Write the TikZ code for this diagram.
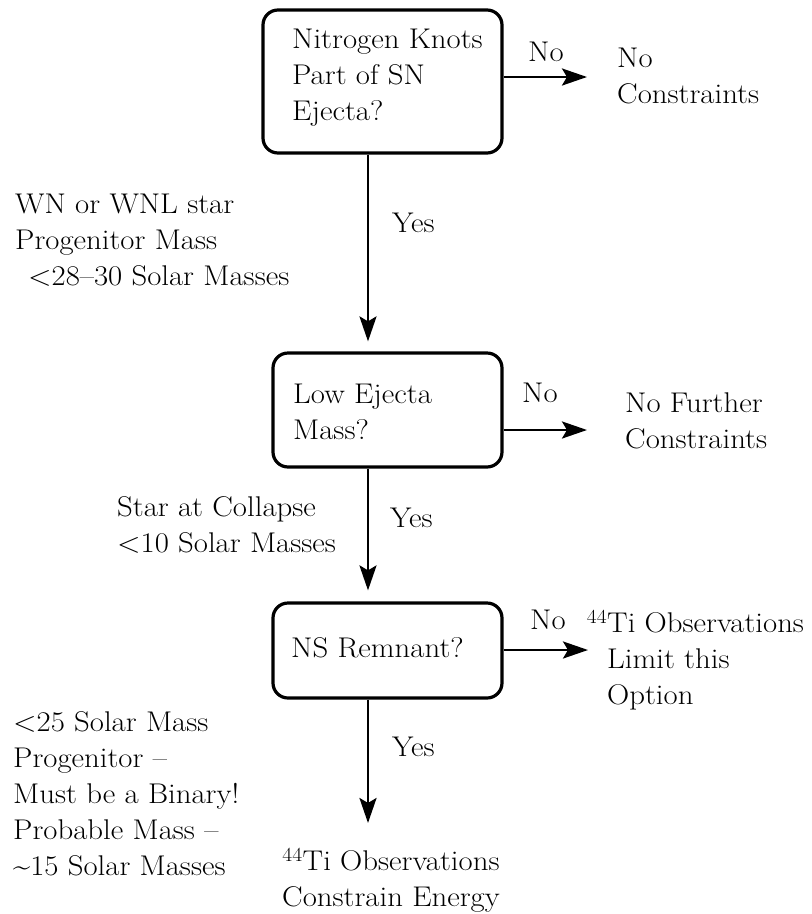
\documentclass[tikz,border=0pt]{standalone}
\usepackage{fontspec}
\setmainfont{Latin Modern Roman}[FakeStretch=1.08]
\usetikzlibrary{arrows.meta}
\begin{document}
\begin{tikzpicture}[x=1pt,y=-1pt,
  every node/.style={font=\fontsize{28.5}{36}\selectfont, inner sep=0pt},
  box/.style={draw, line width=3.2pt, rounded corners=15pt},
  txt/.style={align=left, anchor=west},
  arr/.style={line width=2.8pt, -{Stealth[length=25pt,width=17pt,inset=5pt]}}]
\useasboundingbox (0,0) rectangle (812,914);
% boxes
\node[box, minimum width=239pt, minimum height=143pt] (b1) at (382.5,81.5) {};
\node[box, minimum width=229pt, minimum height=114pt] (b2) at (387.5,410) {};
\node[box, minimum width=229pt, minimum height=95pt] (b3) at (387.5,650.5) {};
% box texts
\node[txt] (q1) at (292,78) {Nitrogen Knots\\Part of SN\\Ejecta?};
\node[txt] (q2) at (293,412) {Low Ejecta\\Mass?};
\node[txt] (q3) at (291,648) {NS Remnant?};
% outcomes
\node[txt] (o1) at (617,76) {No\\Constraints};
\node[txt] (o2) at (625,421) {No Further\\Constraints};
\node[txt] (o3) at (607,660) {\llap{\textsuperscript{44}}Ti Observations\\Limit this\\Option};
\node[align=center] (o4) at (391,880) {\textsuperscript{44}Ti Observations\\Constrain Energy};
% side notes
\node[txt] (n1) at (15,240) {WN or WNL star\\Progenitor Mass\\\hspace{13pt}<28–30 Solar Masses};
\node[txt] (n2) at (117,525) {Star at Collapse\\<10 Solar Masses};
\node[txt] (n3) at (13,794) {<25 Solar Mass\\Progenitor –\\Must be a Binary!\\Probable Mass –\\\textasciitilde15 Solar Masses};
% connector labels
\node[txt] (l1) at (528,52) {No};
\node[txt] (l2) at (522,393) {No};
\node[txt] (l3) at (530,620) {No};
\node[txt] (y1) at (392,223) {Yes};
\node[txt] (y2) at (390,518) {Yes};
\node[txt] (y3) at (392,747) {Yes};
% connector coordinates
\coordinate (x0) at (368,0);
\coordinate (e1) at (587,77);
\coordinate (e2) at (587,430);
\coordinate (e3) at (588,650);
\coordinate (e4) at (368,823);
% connectors
\draw[arr, shorten >=10pt] (b1.south -| x0) -- (b2.north -| x0);
\draw[arr, shorten >=11pt] (b2.south -| x0) -- (b3.north -| x0);
\draw[arr] (b3.south -| x0) -- (e4);
\draw[arr] (b1.east |- e1) -- (e1);
\draw[arr] (b2.east |- e2) -- (e2);
\draw[arr] (b3.east |- e3) -- (e3);
\end{tikzpicture}
\end{document}
